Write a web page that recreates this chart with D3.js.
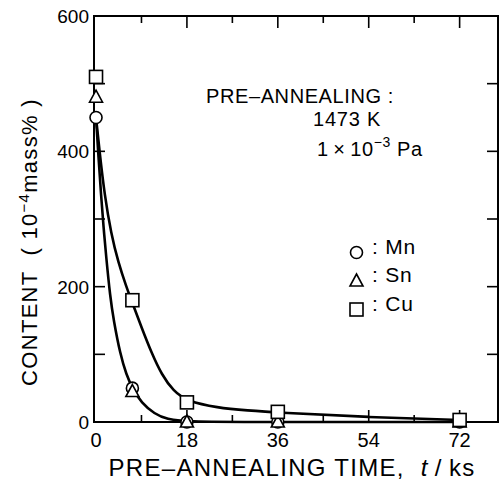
<!DOCTYPE html>
<html lang="en">
  <head>
    <meta charset="UTF-8" />
    <title>Pre-annealing content</title>
    <style>
      body { margin: 0; background: #fff; }
      text { font-family: "Liberation Sans", Arial, sans-serif; fill: #000; }
    </style>
  </head>
  <body>
    <script src="https://cdn.jsdelivr.net/npm/d3@7"></script>
    <script>
      // measured points (t in ks, content in 10^-4 mass%)
      var mnPoints = [[0, 450], [7.2, 50], [18, 0], [36, 0], [72, 0]];
      var snPoints = [[0, 480], [7.2, 45], [18, 0], [36, 0], [72, 0]];
      var cuPoints = [[0, 510], [7.2, 180], [18, 29], [36, 15], [72, 3]];

      // fitted curves
      var mnSnCurve = [[0, 450], [0.5, 390], [1, 335], [1.5, 287], [2, 245], [2.8, 185], [3.5, 150],
                       [4.8, 100], [6, 70], [7.2, 50], [9, 28], [11.6, 12], [14, 4], [18, 0],
                       [36, 0], [72, 0]];
      var cuCurve = [[0, 450], [0.7, 400], [1.7, 335], [3, 278], [4.4, 236], [6, 200], [7.2, 176],
                     [9, 140], [11, 102], [13, 70], [15.3, 46], [18, 31], [24, 21], [30, 17],
                     [36, 14], [54, 7], [72, 3]];

      var xTicks = [0, 18, 36, 54, 72];
      var yTicks = [0, 200, 400, 600];

      var w = 499, h = 495;
      var margin = { top: 16, left: 94, right: 1, bottom: 73 };

      var svg = d3.select("body").append("svg")
                  .attr("width", w)
                  .attr("height", h);

      var xScale = d3.scaleLinear()
                     .domain([-0.4, 79.6])
                     .range([margin.left, w - margin.right]);
      var yScale = d3.scaleLinear()
                     .domain([0, 600])
                     .range([h - margin.bottom, margin.top]);

      var x0 = xScale.range()[0], x1 = xScale.range()[1];
      var y0 = yScale.range()[0], y1 = yScale.range()[1];

      // ticks (inward), minor every 9 ks and 100 units
      var xMinor = d3.range(9, 79, 9);
      var yMinor = d3.range(100, 600, 100);
      var ticks = svg.append("g").attr("stroke", "#000").attr("stroke-width", 1.6);
      xMinor.forEach(function(t) {
        var len = (t % 18 === 0) ? 12 : 7;
        ticks.append("line").attr("x1", xScale(t)).attr("x2", xScale(t))
             .attr("y1", y0).attr("y2", y0 - len);
        ticks.append("line").attr("x1", xScale(t)).attr("x2", xScale(t))
             .attr("y1", y1).attr("y2", y1 + len);
      });
      yMinor.forEach(function(v) {
        ticks.append("line").attr("x1", x0).attr("x2", x0 + 11)
             .attr("y1", yScale(v)).attr("y2", yScale(v));
        ticks.append("line").attr("x1", x1).attr("x2", x1 - 11)
             .attr("y1", yScale(v)).attr("y2", yScale(v));
      });

      // frame
      svg.append("rect")
         .attr("x", x0).attr("y", y1)
         .attr("width", x1 - x0).attr("height", y0 - y1)
         .attr("fill", "none").attr("stroke", "#000").attr("stroke-width", 2);

      // tick labels
      svg.selectAll(".xlab").data(xTicks).enter().append("text")
         .attr("x", function(d) { return xScale(d); })
         .attr("y", y0 + 25)
         .attr("text-anchor", "middle")
         .style("font-size", "20px")
         .text(function(d) { return d; });
      svg.selectAll(".ylab").data(yTicks).enter().append("text")
         .attr("x", x0 - 5)
         .attr("y", function(d) { return yScale(d) + 7; })
         .attr("text-anchor", "end")
         .style("font-size", "19px")
         .text(function(d) { return d; });

      // curves
      var line = d3.line()
                   .x(function(d) { return xScale(d[0]); })
                   .y(function(d) { return yScale(d[1]); })
                   .curve(d3.curveBasis);
      [mnSnCurve, cuCurve].forEach(function(c) {
        svg.append("path").datum(c)
           .attr("d", line)
           .attr("fill", "none")
           .attr("stroke", "#000")
           .attr("stroke-width", 2.6);
      });

      // markers
      var mk = svg.append("g").attr("fill", "#fff").attr("stroke", "#000").attr("stroke-width", 1.6);
      function circle(g, x, y) {
        g.append("circle").attr("cx", x).attr("cy", y).attr("r", 6);
      }
      function triangle(g, x, y) {
        g.append("path").attr("d", "M" + x + "," + (y - 7) + "L" + (x + 6.5) + "," + (y + 5) +
                                   "L" + (x - 6.5) + "," + (y + 5) + "Z");
      }
      function square(g, x, y) {
        g.append("rect").attr("x", x - 6.5).attr("y", y - 6.5).attr("width", 13).attr("height", 13);
      }
      mnPoints.forEach(function(d) { circle(mk, xScale(d[0]), yScale(d[1])); });
      snPoints.forEach(function(d) { triangle(mk, xScale(d[0]), yScale(d[1])); });
      cuPoints.forEach(function(d) { square(mk, xScale(d[0]), yScale(d[1])); });

      // legend
      var legend = [["Mn", circle], ["Sn", triangle], ["Cu", square]];
      legend.forEach(function(l, i) {
        var ly = 252.5 + i * 28.5;
        l[1](mk, 356.5, ly);
        svg.append("text").attr("x", 372).attr("y", ly + 1)
           .style("font-size", "21px")
           .style("letter-spacing", "0.8px")
           .text(":\u00a0" + l[0]);
      });

      // annotation
      svg.append("text").attr("x", 206).attr("y", 103)
         .style("font-size", "20px").style("letter-spacing", "0.6px")
         .text("PRE\u2013ANNEALING :");
      svg.append("text").attr("x", 313).attr("y", 126)
         .style("font-size", "20px").style("letter-spacing", "0.8px")
         .text("1473 K");
      var ann = svg.append("text").attr("x", 317).attr("y", 156)
                   .style("font-size", "20px").style("letter-spacing", "0.6px");
      ann.append("tspan").text("1\u2009\u00d7\u200910");
      ann.append("tspan").attr("dy", -9).style("font-size", "14px").text("\u22123");
      ann.append("tspan").attr("dy", 9).text("\u00a0Pa");

      // axis titles
      var xt = svg.append("text").attr("x", 292).attr("y", 476)
                  .attr("text-anchor", "middle")
                  .style("font-size", "24px").style("letter-spacing", "1.3px");
      xt.append("tspan").text("PRE\u2013ANNEALING TIME,\u00a0\u00a0");
      xt.append("tspan").style("font-style", "italic").text("t");
      xt.append("tspan").text("\u2009/\u2009ks");

      var yt = svg.append("text")
                  .attr("transform", "translate(37,242) rotate(-90)")
                  .attr("text-anchor", "middle")
                  .style("font-size", "22px").style("letter-spacing", "1.3px");
      yt.append("tspan").text("CONTENT\u00a0\u00a0(\u00a010");
      yt.append("tspan").attr("dy", -8).style("font-size", "15px").text("\u22124");
      yt.append("tspan").attr("dy", 8).text("mass%\u00a0)");
    </script>
  </body>
</html>
